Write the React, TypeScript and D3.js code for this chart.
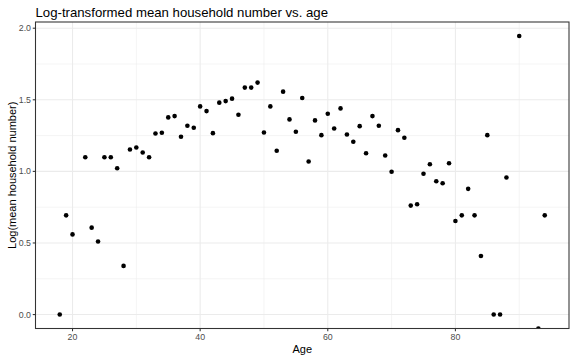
import React from "react";
import * as d3 from "d3";

const ages = [18, 19, 20, 22, 23, 24, 25, 26, 27, 28, 29, 30, 31, 32, 33, 34, 35, 36, 37, 38, 39, 40, 41, 42, 43, 44, 45, 46, 47, 48, 49, 50, 51, 52, 53, 54, 55, 56, 57, 58, 59, 60, 61, 62, 63, 64, 65, 66, 67, 68, 69, 70, 71, 72, 73, 74, 75, 76, 77, 78, 79, 80, 81, 82, 83, 84, 85, 86, 87, 88, 90, 93, 94];
const logMean = [0, 0.693, 0.56, 1.099, 0.607, 0.51, 1.099, 1.099, 1.022, 0.34, 1.153, 1.167, 1.132, 1.099, 1.265, 1.27, 1.377, 1.386, 1.242, 1.319, 1.305, 1.454, 1.421, 1.267, 1.48, 1.491, 1.508, 1.396, 1.585, 1.585, 1.62, 1.272, 1.454, 1.144, 1.557, 1.363, 1.277, 1.512, 1.069, 1.356, 1.253, 1.403, 1.3, 1.44, 1.258, 1.207, 1.316, 1.127, 1.386, 1.319, 1.111, 0.997, 1.288, 1.235, 0.761, 0.77, 0.983, 1.05, 0.931, 0.917, 1.057, 0.654, 0.693, 0.878, 0.693, 0.409, 1.253, 0, 0, 0.957, 1.946, -Infinity, 0.693];
const xTicks = [20, 40, 60, 80];
const xMinor = [30, 50, 70, 90];
const yTicks = [0, 0.5, 1, 1.5, 2];
const yMinor = [0.25, 0.75, 1.25, 1.75];

const W = 576, H = 360;
const P = { left: 35.5, right: 569, top: 22, bottom: 328.5 };

export default function App() {
  const finite = logMean.filter((v) => isFinite(v));
  const [x0, x1] = d3.extent(ages) as [number, number];
  const [y0, y1] = d3.extent(finite) as [number, number];
  const xr = x1 - x0, yr = y1 - y0;
  const x = d3.scaleLinear().domain([x0 - 0.05 * xr, x1 + 0.05 * xr]).range([P.left, P.right]);
  const y = d3.scaleLinear().domain([y0 - 0.05 * yr, y1 + 0.05 * yr]).range([P.bottom, P.top]);
  const yPos = (v: number) => (v === -Infinity ? P.bottom : v === Infinity ? P.top : y(v));
  const fmt = d3.format(".1f");
  const font = "Liberation Sans, Arial, Helvetica, sans-serif";
  return (
    <svg width={W} height={H} style={{ position: "absolute", left: 0, top: 0 }} fontFamily={font}>
      <rect width={W} height={H} fill="#fff" />
      <defs>
        <clipPath id="panel">
          <rect x={P.left} y={P.top} width={P.right - P.left} height={P.bottom - P.top} />
        </clipPath>
      </defs>
      <g>
        {yMinor.map((t) => (
          <line key={"ym" + t} x1={P.left} x2={P.right} y1={y(t)} y2={y(t)} stroke="#EBEBEB" strokeWidth={0.55} />
        ))}
        {xMinor.map((t) => (
          <line key={"xm" + t} y1={P.top} y2={P.bottom} x1={x(t)} x2={x(t)} stroke="#EBEBEB" strokeWidth={0.55} />
        ))}
        {yTicks.map((t) => (
          <line key={"yg" + t} x1={P.left} x2={P.right} y1={y(t)} y2={y(t)} stroke="#EBEBEB" strokeWidth={1.07} />
        ))}
        {xTicks.map((t) => (
          <line key={"xg" + t} y1={P.top} y2={P.bottom} x1={x(t)} x2={x(t)} stroke="#EBEBEB" strokeWidth={1.07} />
        ))}
      </g>
      <g clipPath="url(#panel)">
        {ages.map((a, i) => (
          <circle key={a} cx={x(a)} cy={yPos(logMean[i])} r={2.3} fill="#000" />
        ))}
      </g>
      <rect x={P.left} y={P.top} width={P.right - P.left} height={P.bottom - P.top} fill="none" stroke="#333333" strokeWidth={1.07} />
      {yTicks.map((t) => (
        <g key={"yt" + t}>
          <line x1={P.left - 2.75} x2={P.left} y1={y(t)} y2={y(t)} stroke="#333333" strokeWidth={1.07} />
          <text x={P.left - 4.5} y={y(t)} dy="0.35em" textAnchor="end" fontSize={8.8} fill="#4D4D4D">{fmt(t)}</text>
        </g>
      ))}
      {xTicks.map((t) => (
        <g key={"xt" + t}>
          <line y1={P.bottom} y2={P.bottom + 2.75} x1={x(t)} x2={x(t)} stroke="#333333" strokeWidth={1.07} />
          <text x={x(t)} y={P.bottom + 11.5} textAnchor="middle" fontSize={8.8} fill="#4D4D4D">{t}</text>
        </g>
      ))}
      <text x={(P.left + P.right) / 2} y={353} textAnchor="middle" fontSize={11} fill="#000">Age</text>
      <text transform={`translate(15.5, ${(P.top + P.bottom) / 2}) rotate(-90)`} textAnchor="middle" fontSize={11} fill="#000">Log(mean household number)</text>
      <text x={P.left} y={17} fontSize={13.2} fill="#000">Log-transformed mean household number vs. age</text>
    </svg>
  );
}
